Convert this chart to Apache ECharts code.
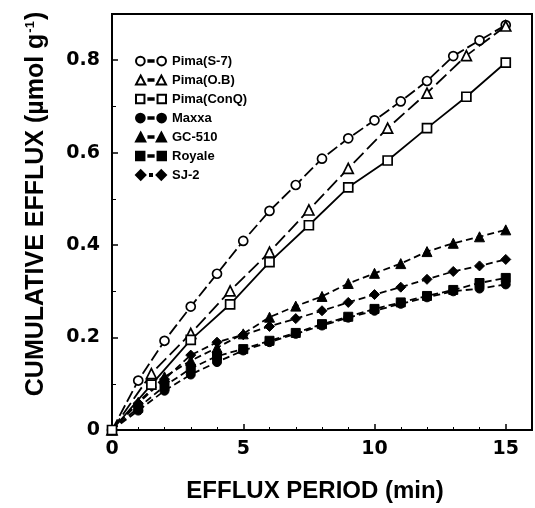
<!DOCTYPE html>
<html><head><meta charset="utf-8">
<script src="https://cdn.jsdelivr.net/npm/echarts@6/dist/echarts.min.js"></script>
<style>html,body{margin:0;padding:0;background:#fff}#c{width:535px;height:508px}</style>
</head><body><div id="c"></div>
<script>
const timesA = [0,1,2,3,4,5,6,7,8,9,10,11,12,13,14,15];
const timesB = [0,1.5,3,4.5,6,7.5,9,10.5,12,13.5,15];
const pimaS7 = [0,0.107,0.193,0.267,0.338,0.409,0.474,0.530,0.587,0.631,0.670,0.711,0.755,0.809,0.843,0.876];
const pimaOB = [0,0.122,0.209,0.301,0.385,0.476,0.566,0.653,0.729,0.810,0.874];
const pimaConQ = [0,0.098,0.195,0.272,0.363,0.443,0.525,0.583,0.653,0.721,0.795];
const maxxa = [0,0.042,0.085,0.120,0.147,0.172,0.190,0.208,0.226,0.243,0.258,0.273,0.287,0.300,0.306,0.315];
const gc510 = [0,0.060,0.115,0.150,0.178,0.208,0.244,0.268,0.289,0.317,0.339,0.360,0.386,0.404,0.418,0.433];
const royale = [0,0.048,0.095,0.133,0.160,0.175,0.193,0.210,0.229,0.245,0.262,0.276,0.290,0.303,0.318,0.329];
const sj2 = [0,0.058,0.110,0.162,0.190,0.206,0.224,0.241,0.258,0.276,0.293,0.309,0.326,0.343,0.355,0.369];
const seriesNames = ['Pima(S-7)','Pima(O.B)','Pima(ConQ)','Maxxa','GC-510','Royale','SJ-2'];
const xTicks = [0,5,10,15];
const yTicks = [0,0.2,0.4,0.6,0.8];

function pts(xs, ys){ return xs.map((x,i)=>[x, ys[i]]); }
const F = '"Liberation Sans", Arial, sans-serif';
const FD = '"DejaVu Sans", sans-serif';

// legend icon shapes: marker - dash - marker (30 x 10 box)
const shapes = {
  circle: (cx)=>`M${cx-4.2},5 A4.2,4.2 0 1,0 ${cx+4.2},5 A4.2,4.2 0 1,0 ${cx-4.2},5 Z`,
  triangle: (cx)=>`M${cx},0.6 L${cx+4.6},9.4 L${cx-4.6},9.4 Z`,
  rect: (cx)=>`M${cx-4},1 L${cx+4},1 L${cx+4},9 L${cx-4},9 Z`,
  diamond: (cx)=>`M${cx},0.3 L${cx+4.7},5 L${cx},9.7 L${cx-4.7},5 Z`
};
function legendIcon(sym, dot){
  const mid = dot ? 'M14,4 L16,4 L16,6 L14,6 Z' : 'M12.5,4.2 L17.5,4.2 L17.5,5.8 L12.5,5.8 Z';
  return 'path://' + shapes[sym](4.8) + ' ' + mid + ' ' + shapes[sym](25.2);
}
function mk(name, xs, ys, symbol, open, dash){
  return {
    name, type:'line', data: pts(xs, ys), symbol,
    symbolSize: symbol==='triangle'?10:(symbol==='diamond'?10:9),
    showSymbol:true,
    lineStyle:{color:'#000', width:1.8, type: dash},
    itemStyle: open ? {color:'#fff', borderColor:'#000', borderWidth:1.7} : {color:'#000', borderColor:'#000', borderWidth:1},
    emphasis:{disabled:true}, animation:false, z: open?3:2
  };
}
const syms = ['circle','triangle','rect','circle','triangle','rect','diamond'];
const chart = echarts.init(document.getElementById('c'));
chart.setOption({
  animation:false,
  grid:{left:112, right:3, top:14, bottom:76, show:true, borderColor:'#000', borderWidth:2},
  legend:{
    orient:'vertical', left:135, top:54, padding:0, itemGap:5, itemWidth:30, itemHeight:10,
    textStyle:{fontFamily:F, fontWeight:'bold', fontSize:13, lineHeight:14, color:'#000', padding:[0,0,0,1]},
    data: seriesNames.map((n,i)=>({name:n, icon: legendIcon(syms[i], n==='SJ-2')}))
  },
  xAxis:{
    type:'value', min:0, max:16, interval:5,
    name:'EFFLUX PERIOD (min)', nameLocation:'middle', nameGap:49,
    nameTextStyle:{fontFamily:F, fontWeight:'bold', fontSize:24, color:'#000', padding:[0,14,0,0]},
    axisLine:{lineStyle:{color:'#000', width:2}},
    axisTick:{inside:true, length:6, lineStyle:{color:'#000', width:1.5}},
    minorTick:{show:true, splitNumber:5, length:3, lineStyle:{color:'#000', width:1}},
    splitLine:{show:false},
    axisLabel:{showMaxLabel:false, margin:10, fontFamily:FD, fontWeight:'bold', fontSize:19, color:'#000',
      formatter:v=> xTicks.includes(v)? String(v) : ''}
  },
  yAxis:{
    type:'value', min:0, max:0.9, interval:0.2,
    name:'{a|CUMULATIVE EFFLUX (µmol g}{s|-1}{a|)}', nameLocation:'middle', nameGap:63,
    nameTextStyle:{fontFamily:F, fontWeight:'bold', fontSize:25, color:'#000', padding:[0,0,0,36],
      rich:{a:{fontFamily:F, fontWeight:'bold', fontSize:25, color:'#000'},
            s:{fontFamily:F, fontWeight:'bold', fontSize:13, color:'#000', verticalAlign:'top', padding:[0,1,12,1]}}},
    axisLine:{lineStyle:{color:'#000', width:2}},
    axisTick:{inside:true, length:6, lineStyle:{color:'#000', width:1.5}},
    minorTick:{show:true, splitNumber:2, length:4, lineStyle:{color:'#000', width:1}},
    splitLine:{show:false},
    axisLabel:{showMaxLabel:false, margin:12, fontFamily:FD, fontWeight:'bold', fontSize:19, color:'#000',
      formatter:v=> { const t = yTicks.find(k=>Math.abs(k-v)<1e-9); return t===undefined? '' : (t===0?'0':t.toFixed(1)); }}
  },
  series:[
    mk('Pima(S-7)', timesA, pimaS7, 'circle', true, [12,4]),
    mk('Pima(O.B)', timesB, pimaOB, 'triangle', true, [14,5]),
    mk('Pima(ConQ)', timesB, pimaConQ, 'rect', true, 'solid'),
    mk('Maxxa', timesA, maxxa, 'circle', false, [7,4]),
    mk('GC-510', timesA, gc510, 'triangle', false, [7,4]),
    mk('Royale', timesA, royale, 'rect', false, [7,4]),
    mk('SJ-2', timesA, sj2, 'diamond', false, [7,4])
  ]
});
</script></body></html>
